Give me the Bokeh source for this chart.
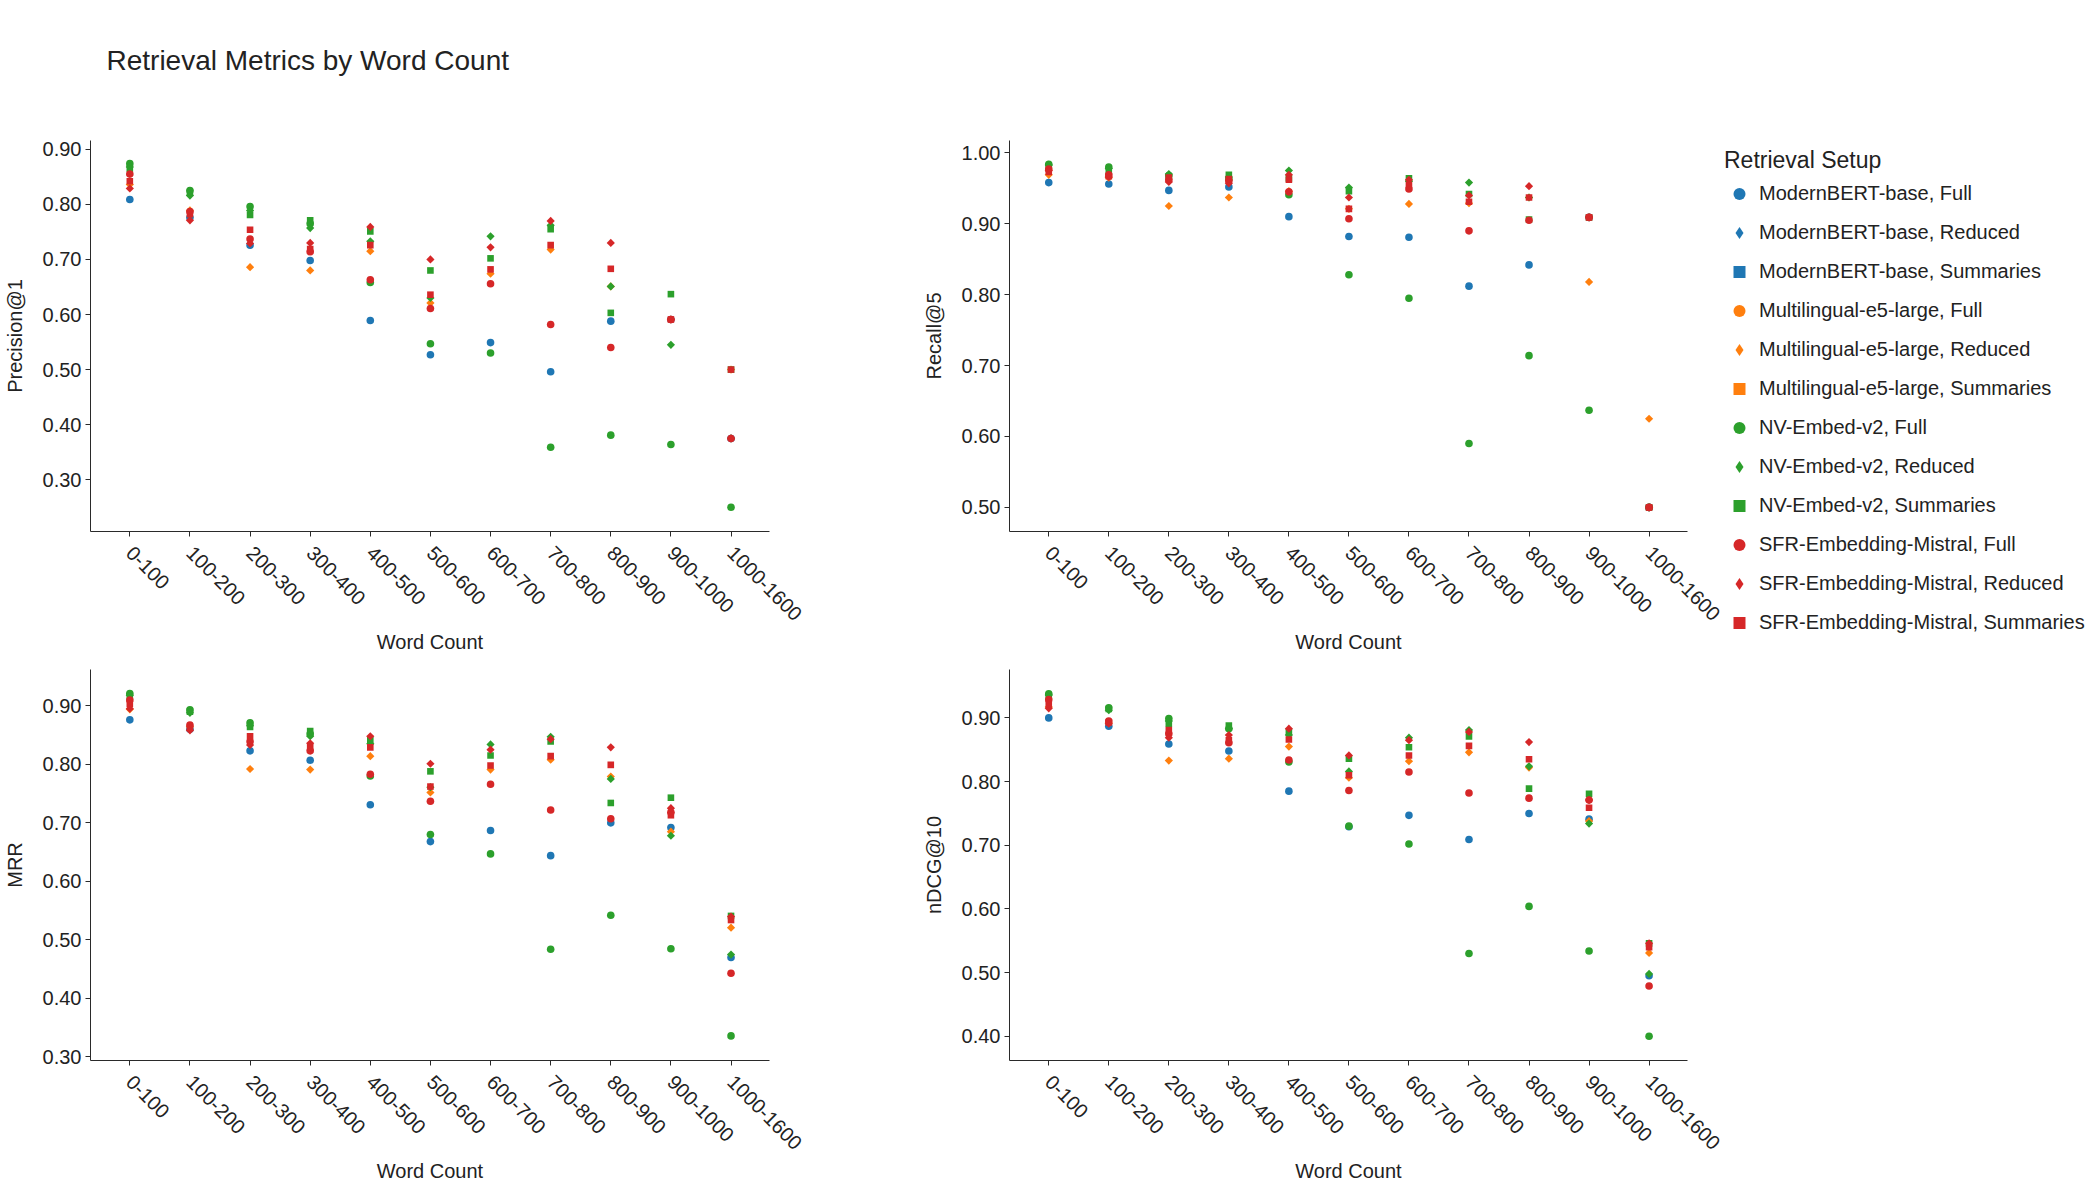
import math
from bokeh.plotting import figure
from bokeh.models import (ColumnDataSource, Range1d, FixedTicker, SingleIntervalTicker,
                          NumeralTickFormatter, Legend, LegendItem, Label)
from bokeh.layouts import column, row
from bokeh.embed import file_html
from bokeh.resources import INLINE

# ---------------- data ----------------
word_count_bins = ["0-100", "100-200", "200-300", "300-400", "400-500", "500-600",
                   "600-700", "700-800", "800-900", "900-1000", "1000-1600"]

models = ["ModernBERT-base", "Multilingual-e5-large", "NV-Embed-v2", "SFR-Embedding-Mistral"]
setups = ["Full", "Reduced", "Summaries"]
model_colors = ["#1f77b4", "#ff7f0e", "#2ca02c", "#d62728"]

# Precision@1
p1_modernbert_full = [0.809, 0.776, 0.726, 0.698, 0.589, 0.527, 0.549, 0.496, 0.588, 0.591, 0.375]
p1_e5_reduced      = [0.836, 0.789, 0.686, 0.680, 0.715, 0.621, 0.674, 0.718, 0.651, 0.591, 0.500]
p1_nv_full         = [0.874, 0.825, 0.796, 0.765, 0.658, 0.547, 0.530, 0.359, 0.381, 0.364, 0.250]
p1_nv_reduced      = [0.868, 0.816, 0.789, 0.757, 0.733, 0.630, 0.742, 0.762, 0.651, 0.545, 0.375]
p1_nv_summaries    = [0.865, 0.821, 0.781, 0.771, 0.751, 0.680, 0.702, 0.755, 0.603, 0.637, 0.500]
p1_sfr_full        = [0.855, 0.787, 0.737, 0.714, 0.663, 0.611, 0.656, 0.582, 0.540, 0.591, 0.375]
p1_sfr_reduced     = [0.829, 0.771, 0.729, 0.730, 0.759, 0.700, 0.722, 0.770, 0.730, 0.591, 0.375]
p1_sfr_summaries   = [0.842, 0.782, 0.754, 0.719, 0.726, 0.636, 0.682, 0.726, 0.683, 0.591, 0.500]

# Recall@5
r5_modernbert_full = [0.958, 0.956, 0.947, 0.952, 0.910, 0.882, 0.881, 0.812, 0.842, 0.909, 0.500]
r5_e5_reduced      = [0.969, 0.965, 0.925, 0.937, 0.946, 0.921, 0.928, 0.929, 0.937, 0.818, 0.625]
r5_nv_full         = [0.984, 0.980, 0.968, 0.963, 0.941, 0.828, 0.795, 0.590, 0.714, 0.637, 0.500]
r5_nv_reduced      = [0.983, 0.978, 0.970, 0.966, 0.975, 0.951, 0.960, 0.958, 0.937, 0.909, 0.500]
r5_nv_summaries    = [0.981, 0.975, 0.966, 0.969, 0.964, 0.946, 0.964, 0.942, 0.906, 0.909, 0.500]
r5_sfr_full        = [0.977, 0.969, 0.962, 0.961, 0.945, 0.907, 0.949, 0.890, 0.905, 0.909, 0.500]
r5_sfr_reduced     = [0.975, 0.966, 0.959, 0.957, 0.969, 0.937, 0.962, 0.940, 0.953, 0.909, 0.500]
r5_sfr_summaries   = [0.973, 0.967, 0.965, 0.963, 0.962, 0.921, 0.955, 0.931, 0.937, 0.909, 0.500]

# MRR
mrr_modernbert_full = [0.876, 0.860, 0.823, 0.807, 0.731, 0.668, 0.687, 0.644, 0.700, 0.692, 0.470]
mrr_e5_reduced      = [0.894, 0.864, 0.792, 0.791, 0.814, 0.752, 0.791, 0.808, 0.779, 0.685, 0.521]
mrr_nv_full         = [0.921, 0.893, 0.871, 0.852, 0.780, 0.680, 0.647, 0.484, 0.542, 0.485, 0.336]
mrr_nv_reduced      = [0.918, 0.888, 0.866, 0.848, 0.835, 0.761, 0.834, 0.847, 0.775, 0.678, 0.475]
mrr_nv_summaries    = [0.915, 0.890, 0.864, 0.857, 0.841, 0.788, 0.815, 0.839, 0.734, 0.743, 0.541]
mrr_sfr_full        = [0.910, 0.867, 0.839, 0.823, 0.783, 0.737, 0.766, 0.722, 0.707, 0.718, 0.443]
mrr_sfr_reduced     = [0.895, 0.858, 0.833, 0.836, 0.848, 0.801, 0.825, 0.843, 0.829, 0.725, 0.540]
mrr_sfr_summaries   = [0.903, 0.862, 0.848, 0.829, 0.829, 0.762, 0.798, 0.814, 0.799, 0.713, 0.534]

# nDCG@10
ndcg_modernbert_full = [0.900, 0.887, 0.859, 0.848, 0.785, 0.729, 0.747, 0.709, 0.750, 0.741, 0.495]
ndcg_e5_reduced      = [0.917, 0.892, 0.833, 0.836, 0.855, 0.806, 0.832, 0.846, 0.822, 0.738, 0.531]
ndcg_nv_full         = [0.938, 0.916, 0.899, 0.883, 0.831, 0.730, 0.702, 0.530, 0.604, 0.534, 0.400]
ndcg_nv_reduced      = [0.936, 0.912, 0.895, 0.883, 0.873, 0.816, 0.869, 0.881, 0.824, 0.734, 0.498]
ndcg_nv_summaries    = [0.934, 0.914, 0.891, 0.888, 0.878, 0.836, 0.854, 0.871, 0.789, 0.781, 0.546]
ndcg_sfr_full        = [0.929, 0.895, 0.875, 0.861, 0.834, 0.786, 0.815, 0.782, 0.774, 0.771, 0.479]
ndcg_sfr_reduced     = [0.915, 0.891, 0.869, 0.873, 0.883, 0.841, 0.865, 0.878, 0.862, 0.771, 0.546]
ndcg_sfr_summaries   = [0.922, 0.893, 0.881, 0.865, 0.866, 0.810, 0.841, 0.856, 0.835, 0.759, 0.540]


# table built from the lists above (combinations without values have no points)
def metric_table(mb_full, e5_red, nv_full, nv_red, nv_sum, sfr_full, sfr_red, sfr_sum):
    return {
        ("ModernBERT-base", "Full"): mb_full,
        ("Multilingual-e5-large", "Reduced"): e5_red,
        ("NV-Embed-v2", "Full"): nv_full,
        ("NV-Embed-v2", "Reduced"): nv_red,
        ("NV-Embed-v2", "Summaries"): nv_sum,
        ("SFR-Embedding-Mistral", "Full"): sfr_full,
        ("SFR-Embedding-Mistral", "Reduced"): sfr_red,
        ("SFR-Embedding-Mistral", "Summaries"): sfr_sum,
    }


precision_table = metric_table(p1_modernbert_full, p1_e5_reduced, p1_nv_full, p1_nv_reduced,
                               p1_nv_summaries, p1_sfr_full, p1_sfr_reduced, p1_sfr_summaries)
recall_table = metric_table(r5_modernbert_full, r5_e5_reduced, r5_nv_full, r5_nv_reduced,
                            r5_nv_summaries, r5_sfr_full, r5_sfr_reduced, r5_sfr_summaries)
mrr_table = metric_table(mrr_modernbert_full, mrr_e5_reduced, mrr_nv_full, mrr_nv_reduced,
                         mrr_nv_summaries, mrr_sfr_full, mrr_sfr_reduced, mrr_sfr_summaries)
ndcg_table = metric_table(ndcg_modernbert_full, ndcg_e5_reduced, ndcg_nv_full, ndcg_nv_reduced,
                          ndcg_nv_summaries, ndcg_sfr_full, ndcg_sfr_reduced, ndcg_sfr_summaries)

# ---------------- styling ----------------
FONT = "Liberation Sans"
TXT = "#222222"
AX = "#2a2a2a"
NAN = float("nan")


def make_panel(table, ylabel, yr, frame_w, mb_top, mb_bottom, mb_right):
    p = figure(frame_width=frame_w, frame_height=391,
               x_range=Range1d(-0.654, len(word_count_bins) - 1 + 0.64),
               y_range=Range1d(*yr),
               output_backend="svg", toolbar_location=None,
               min_border_left=89, min_border_right=mb_right,
               min_border_top=mb_top, min_border_bottom=mb_bottom)
    p.outline_line_color = None
    p.xgrid.visible = False
    p.ygrid.visible = False
    p.background_fill_color = "white"
    p.border_fill_color = "white"

    idx = list(range(len(word_count_bins)))
    p.xaxis.ticker = FixedTicker(ticks=idx, minor_ticks=[])
    p.xaxis.major_label_overrides = {i: b for i, b in enumerate(word_count_bins)}
    p.xaxis.major_label_orientation = -math.pi / 4
    p.xaxis.axis_label = "Word Count"
    p.xaxis.major_label_standoff = 13
    p.xaxis.axis_label_standoff = 1

    p.yaxis.ticker = SingleIntervalTicker(interval=0.1, num_minor_ticks=0)
    p.yaxis.formatter = NumeralTickFormatter(format="0.00")
    p.yaxis.axis_label = ylabel
    p.yaxis.major_label_standoff = 4
    p.yaxis.axis_label_standoff = 14

    for ax in (p.xaxis[0], p.yaxis[0]):
        ax.axis_line_color = AX
        ax.major_tick_line_color = AX
        ax.minor_tick_line_color = None
        ax.major_tick_in = 0
        ax.major_tick_out = 5
        ax.major_label_text_font = FONT
        ax.major_label_text_font_size = "20px"
        ax.major_label_text_color = TXT
        ax.axis_label_text_font = FONT
        ax.axis_label_text_font_size = "20px"
        ax.axis_label_text_font_style = "normal"
        ax.axis_label_text_color = TXT

    renderers = []
    for mi, m in enumerate(models):
        for s in setups:
            vals = table.get((m, s))
            if vals is None:
                src = ColumnDataSource(dict(x=[NAN], y=[NAN]))   # no values for this setup
            else:
                src = ColumnDataSource(dict(x=list(range(len(vals))), y=vals))
            c = model_colors[mi]
            if s == "Full":
                r = p.scatter("x", "y", source=src, marker="circle", size=7.6,
                              fill_color=c, line_color=None)
            elif s == "Reduced":
                r = p.scatter("x", "y", source=src, marker="square", angle=math.pi / 4,
                              size=5.8, fill_color=c, line_color=None)
            else:
                r = p.scatter("x", "y", source=src, marker="square", size=6.6,
                              fill_color=c, line_color=None)
            renderers.append((m, s, c, r))
    return p, renderers


p_tl, _ = make_panel(precision_table, "Precision@1", (0.206, 0.916), 679, 40, 128, 150)
p_tr, tr_renderers = make_panel(recall_table, "Recall@5", (0.466, 1.0174), 678, 40, 128, 0)
p_bl, _ = make_panel(mrr_table, "MRR", (0.294, 0.962), 679, 10, 140, 150)
p_br, _ = make_panel(ndcg_table, "nDCG@10", (0.362, 0.976), 678, 10, 140, 80)

items = []
for m, s, c, r in tr_renderers:
    if s == "Reduced":
        # legend swatch (legend glyphs ignore marker rotation, so use a diamond)
        r = p_tr.scatter(x=[NAN], y=[NAN], marker="diamond", size=8,
                         fill_color=c, line_color=None)
    items.append(LegendItem(label=f"{m}, {s}", renderers=[r]))

legend = Legend(items=items, location=(37, -111), title="Retrieval Setup")
legend.title_text_font = FONT
legend.title_text_font_size = "23px"
legend.title_text_font_style = "normal"
legend.title_text_color = TXT
legend.title_standoff = 0
legend.label_text_font = FONT
legend.label_text_font_size = "20px"
legend.label_text_color = TXT
legend.label_height = 39
legend.glyph_height = 39
legend.glyph_width = 30
legend.label_standoff = 5
legend.spacing = 0
legend.padding = 0
legend.margin = 20
legend.border_line_color = None
legend.background_fill_alpha = 0
p_tr.add_layout(legend, "right")

# title strip
title_fig = figure(width=2100, height=100, x_range=Range1d(0, 2100), y_range=Range1d(100, 0),
                   output_backend="svg", toolbar_location=None, min_border=0,
                   x_axis_location=None, y_axis_location=None)
title_fig.outline_line_color = None
title_fig.xgrid.visible = False
title_fig.ygrid.visible = False
title_fig.add_layout(Label(x=106, y=60, text="Retrieval Metrics by Word Count",
                           text_font=FONT, text_font_size="28px", text_color=TXT,
                           text_baseline="middle", text_align="left"))

layout = column(title_fig, row(p_tl, p_tr), row(p_bl, p_br))

with open("out.html", "w") as f:
    f.write(file_html(layout, INLINE))
